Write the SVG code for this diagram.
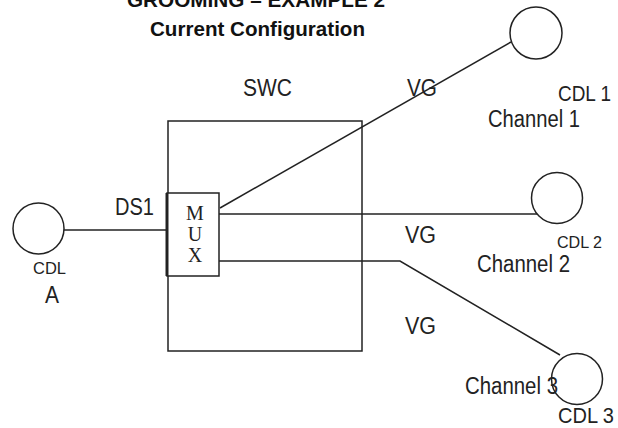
<svg xmlns="http://www.w3.org/2000/svg" width="618" height="428" viewBox="0 0 618 428">
<style>
.ln{fill:none;stroke:#222;stroke-width:1.5}
.nd{fill:#fff;stroke:#222;stroke-width:1.5}
.t{font-family:"Liberation Sans",Arial,sans-serif;font-size:23px;fill:#222}
.b{font-family:"Liberation Sans",Arial,sans-serif;font-size:20.5px;font-weight:bold;fill:#111}
.m{font-family:"Liberation Serif","Times New Roman",serif;font-size:20px;fill:#222;text-anchor:middle}
</style>
<rect width="618" height="428" fill="#fff"/>
<g id="title">
<text class="b" x="127" y="7" textLength="258" lengthAdjust="spacingAndGlyphs">GROOMING – EXAMPLE 2</text>
<text class="b" x="150" y="36" textLength="215" lengthAdjust="spacingAndGlyphs">Current Configuration</text>
</g>
<g id="swc">
<rect class="nd" x="168" y="121" width="194" height="230"/>
<text class="t" x="243" y="96" textLength="49" lengthAdjust="spacingAndGlyphs">SWC</text>
</g>
<g id="connectors">
<line class="ln" x1="64" y1="230" x2="167" y2="230"/>
<line class="ln" x1="220" y1="208" x2="511" y2="42"/>
<line class="ln" x1="219" y1="214" x2="537" y2="214"/>
<polyline class="ln" points="218,261 400,261 560,355"/>
</g>
<g id="mux">
<rect class="nd" x="167" y="193" width="52" height="83"/>
<line x1="167" y1="193" x2="167" y2="276" stroke="#222" stroke-width="3"/>
<text class="m" x="195" y="220">M</text>
<text class="m" x="195" y="241">U</text>
<text class="m" x="195" y="262">X</text>
</g>
<g id="cdlA">
<circle class="nd" cx="38.5" cy="228.5" r="25.5"/>
<text class="t" x="33" y="274" style="font-size:17px" textLength="33" lengthAdjust="spacingAndGlyphs">CDL</text>
<text class="t" x="45" y="303" style="font-size:24px" textLength="14" lengthAdjust="spacingAndGlyphs">A</text>
</g>
<g id="cdl1">
<circle class="nd" cx="536" cy="33" r="26"/>
<text class="t" x="558" y="101" style="font-size:22px" textLength="53" lengthAdjust="spacingAndGlyphs">CDL 1</text>
<text class="t" x="488" y="127" textLength="92" lengthAdjust="spacingAndGlyphs">Channel 1</text>
</g>
<g id="cdl2">
<circle class="nd" cx="557" cy="198" r="25.5"/>
<text class="t" x="557" y="248" style="font-size:17px" textLength="45" lengthAdjust="spacingAndGlyphs">CDL 2</text>
<text class="t" x="477" y="272" textLength="93" lengthAdjust="spacingAndGlyphs">Channel 2</text>
</g>
<g id="cdl3">
<circle class="nd" cx="577" cy="379" r="25.5"/>
<text class="t" x="465" y="394" textLength="93" lengthAdjust="spacingAndGlyphs">Channel 3</text>
<text class="t" x="558" y="423" style="font-size:22px" textLength="56" lengthAdjust="spacingAndGlyphs">CDL 3</text>
</g>
<g id="labels">
<text class="t" x="115" y="215" textLength="39" lengthAdjust="spacingAndGlyphs">DS1</text>
<text class="t" x="407" y="96" textLength="30" lengthAdjust="spacingAndGlyphs">VG</text>
<text class="t" x="405" y="243" textLength="31" lengthAdjust="spacingAndGlyphs">VG</text>
<text class="t" x="405" y="334" textLength="31" lengthAdjust="spacingAndGlyphs">VG</text>
</g>
</svg>
